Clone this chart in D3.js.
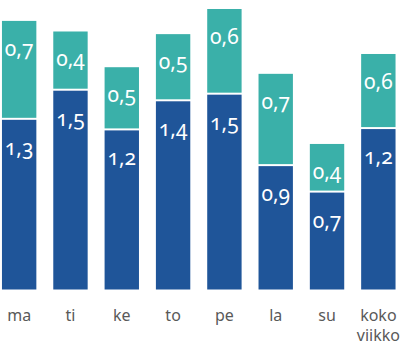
<!DOCTYPE html>
<html><head><meta charset="utf-8">
<script src="https://cdn.jsdelivr.net/npm/d3@7/dist/d3.min.js"></script>
<style>
html,body{margin:0;padding:0;background:#fff;}
svg{display:block;}
</style></head>
<body>
<svg id="chart" width="403" height="345"></svg>
<script>
const categories = ["ma", "ti", "ke", "to", "pe", "la", "su", "koko viikko"];
const lowerValues = [1.29, 1.51, 1.21, 1.43, 1.48, 0.94, 0.74, 1.22];
const upperValues = [0.74, 0.44, 0.47, 0.50, 0.64, 0.69, 0.36, 0.56];

const W = 403, H = 345;
const baseY = 289.5;
const svg = d3.select("#chart");

const x = d3.scaleBand().domain(categories).range([-6.5, 404]).paddingInner(0.33).paddingOuter(0.165);
const y = d3.scaleLinear().domain([0, 2.188]).range([baseY, 0]);

const fmt = v => d3.format(".1f")(v).replace(".", ",");
const data = categories.map((c, i) => ({c, lo: lowerValues[i], up: upperValues[i]}));

const g = svg.append("g");
// lower segments
g.selectAll("rect.lo").data(data).join("rect").attr("class", "lo")
  .attr("x", d => x(d.c)).attr("width", x.bandwidth())
  .attr("y", d => y(d.lo) + 1).attr("height", d => baseY - y(d.lo) - 1)
  .attr("fill", "#1f5599");
// upper segments
g.selectAll("rect.up").data(data).join("rect").attr("class", "up")
  .attr("x", d => x(d.c)).attr("width", x.bandwidth())
  .attr("y", d => y(d.lo + d.up)).attr("height", d => y(d.lo) - y(d.lo + d.up) - 1)
  .attr("fill", "#3ab0a9");

const labStyle = sel => sel.attr("text-anchor", "middle")
  .attr("font-family", "'Noto Sans', sans-serif").attr("font-size", 21)
  .style("font-feature-settings", "'onum'").attr("fill", "#fff");

g.selectAll("text.lo").data(data).join("text").attr("class", "lo")
  .attr("x", d => x(d.c) + x.bandwidth() / 2).attr("y", d => y(d.lo) + 36)
  .text(d => fmt(d.lo)).call(labStyle);
g.selectAll("text.up").data(data).join("text").attr("class", "up")
  .attr("x", d => x(d.c) + x.bandwidth() / 2).attr("y", d => y(d.lo + d.up) + 35)
  .text(d => fmt(d.up)).call(labStyle);

// axis
const axis = d3.axisBottom(x).tickSize(0).tickPadding(0);
const ax = svg.append("g").attr("transform", `translate(0,${baseY})`).call(axis);
ax.select(".domain").remove();
ax.selectAll(".tick text").each(function(d) {
  const t = d3.select(this);
  const words = d.split(" ");
  t.text(null).attr("y", 0).attr("dy", null)
    .attr("font-family", "'Noto Sans', sans-serif").attr("font-size", 16).attr("fill", "#595959");
  words.forEach((w, i) => t.append("tspan").attr("x", 0).attr("y", 31 + i * 20).text(w));
});
</script>
</body></html>
